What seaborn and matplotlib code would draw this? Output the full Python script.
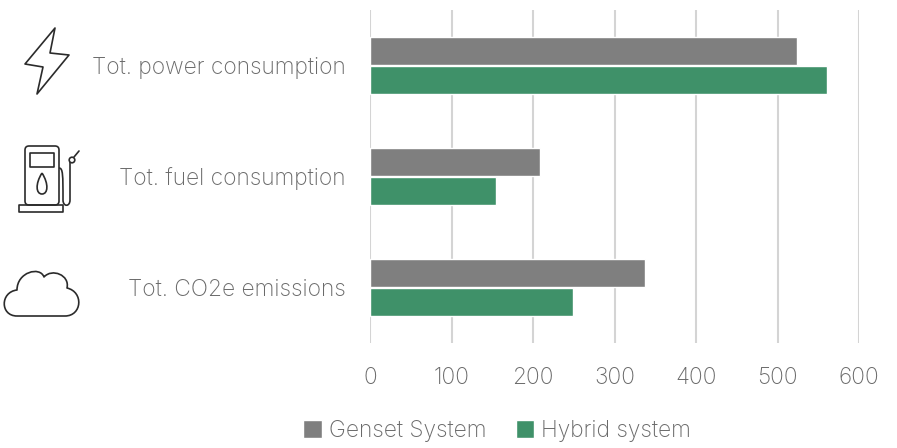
import pandas as pd
import matplotlib.pyplot as plt
from matplotlib.patches import Circle, FancyBboxPatch, PathPatch, Polygon, Rectangle
from matplotlib.path import Path
import seaborn as sns

# ── DATA ──────────────────────────────────────────────────────────────
categories = ['Tot. power consumption', 'Tot. fuel consumption', 'Tot. CO2e emissions']
genset_values = [524, 209, 338]
hybrid_values = [561, 155, 249]
x_ticks = [0, 100, 200, 300, 400, 500, 600]

GREY = '#7f7f7f'
GREEN = '#3f9169'
TEXT = '#6a6a6a'
ICON = '#2b2b2b'
FONT_SIZE = 16.4

df = pd.DataFrame({
    'category': categories * 2,
    'value': genset_values + hybrid_values,
    'system': ['Genset System'] * 3 + ['Hybrid system'] * 3,
})

sns.set_theme(style='white')
plt.rcParams['font.family'] = ['Inter', 'DejaVu Sans']
plt.rcParams['font.weight'] = 'light'

fig = plt.figure(figsize=(8.97, 4.48), dpi=100)
W, H = 897, 448
ax = fig.add_axes([370 / W, 1 - 343 / H, 489 / W, 333 / H])

sns.barplot(data=df, y='category', x='value', hue='system', order=categories,
            palette=[GREY, GREEN], width=0.535, gap=0.06, saturation=1, ax=ax, zorder=3)

ax.set_xlim(0, 600)
ax.set_xticks(x_ticks)
ax.set_xlabel('')
ax.set_ylabel('')
ax.grid(axis='x', color='#d4d4d4', linewidth=1.5, zorder=0)
ax.set_axisbelow(True)
sns.despine(ax=ax, left=True, bottom=True, top=True, right=True)
ax.tick_params(axis='y', length=0, pad=17.5, labelsize=FONT_SIZE, labelcolor=TEXT)
ax.tick_params(axis='x', length=0, pad=17.5, labelsize=FONT_SIZE, labelcolor=TEXT)

# legend sits centred under the chart
handles, labels = ax.get_legend_handles_labels()
ax.get_legend().remove()
fig.legend(handles, labels, ncol=2, frameon=False, fontsize=FONT_SIZE, labelcolor=TEXT,
           loc='center', bbox_to_anchor=(497 / W, 1 - 431 / H),
           handlelength=0.8, handleheight=0.8, handletextpad=0.3, columnspacing=1.3)

# ── ICONS ─────────────────────────────────────────────────────────────
# overlay in pixel coordinates, only for the three line icons on the left
ov = fig.add_axes([0, 0, 1, 1], zorder=-1)
ov.set_xlim(0, W)
ov.set_ylim(H, 0)
ov.axis('off')
style = dict(fill=False, edgecolor=ICON, linewidth=1.2, joinstyle='round')

# lightning bolt
ov.add_patch(Polygon([(55, 28), (25, 64), (43, 67), (37, 94), (69, 55), (50, 53)], closed=True, **style))

# fuel pump
ov.add_patch(FancyBboxPatch((25, 146), 34, 59, boxstyle='round,pad=0,rounding_size=4', **style))
ov.add_patch(Rectangle((30, 153), 24, 14, **style))
ov.add_patch(Rectangle((19, 205), 44, 7, **style))
drop = Path([(42, 173), (35, 184), (36, 194), (42, 194), (48, 194), (49, 184), (42, 173)],
            [Path.MOVETO, Path.CURVE4, Path.CURVE4, Path.CURVE4, Path.CURVE4, Path.CURVE4, Path.CURVE4])
ov.add_patch(PathPatch(drop, **style))
hose = Path([(59, 168), (63, 168), (63, 175), (63, 200), (63, 207), (70, 207), (70, 200), (70, 162)],
            [Path.MOVETO, Path.CURVE4, Path.CURVE4, Path.LINETO, Path.CURVE4, Path.CURVE4, Path.CURVE4, Path.LINETO])
ov.add_patch(PathPatch(hose, **style))
ov.add_patch(Circle((72, 160), 2.8, **style))
ov.plot([74, 79], [157, 151], color=ICON, linewidth=1.2)

# cloud
C = Path.CURVE4
cloud = Path([(17, 316), (0, 316), (0, 292), (17, 290),
              (17, 272), (40, 266), (44, 277),
              (52, 268), (70, 275), (67, 288),
              (84, 292), (82, 316), (65, 316), (17, 316)],
             [Path.MOVETO, C, C, C, C, C, C, C, C, C, C, C, C, Path.LINETO])
ov.add_patch(PathPatch(cloud, **style))

plt.savefig('out.png', dpi=100)
